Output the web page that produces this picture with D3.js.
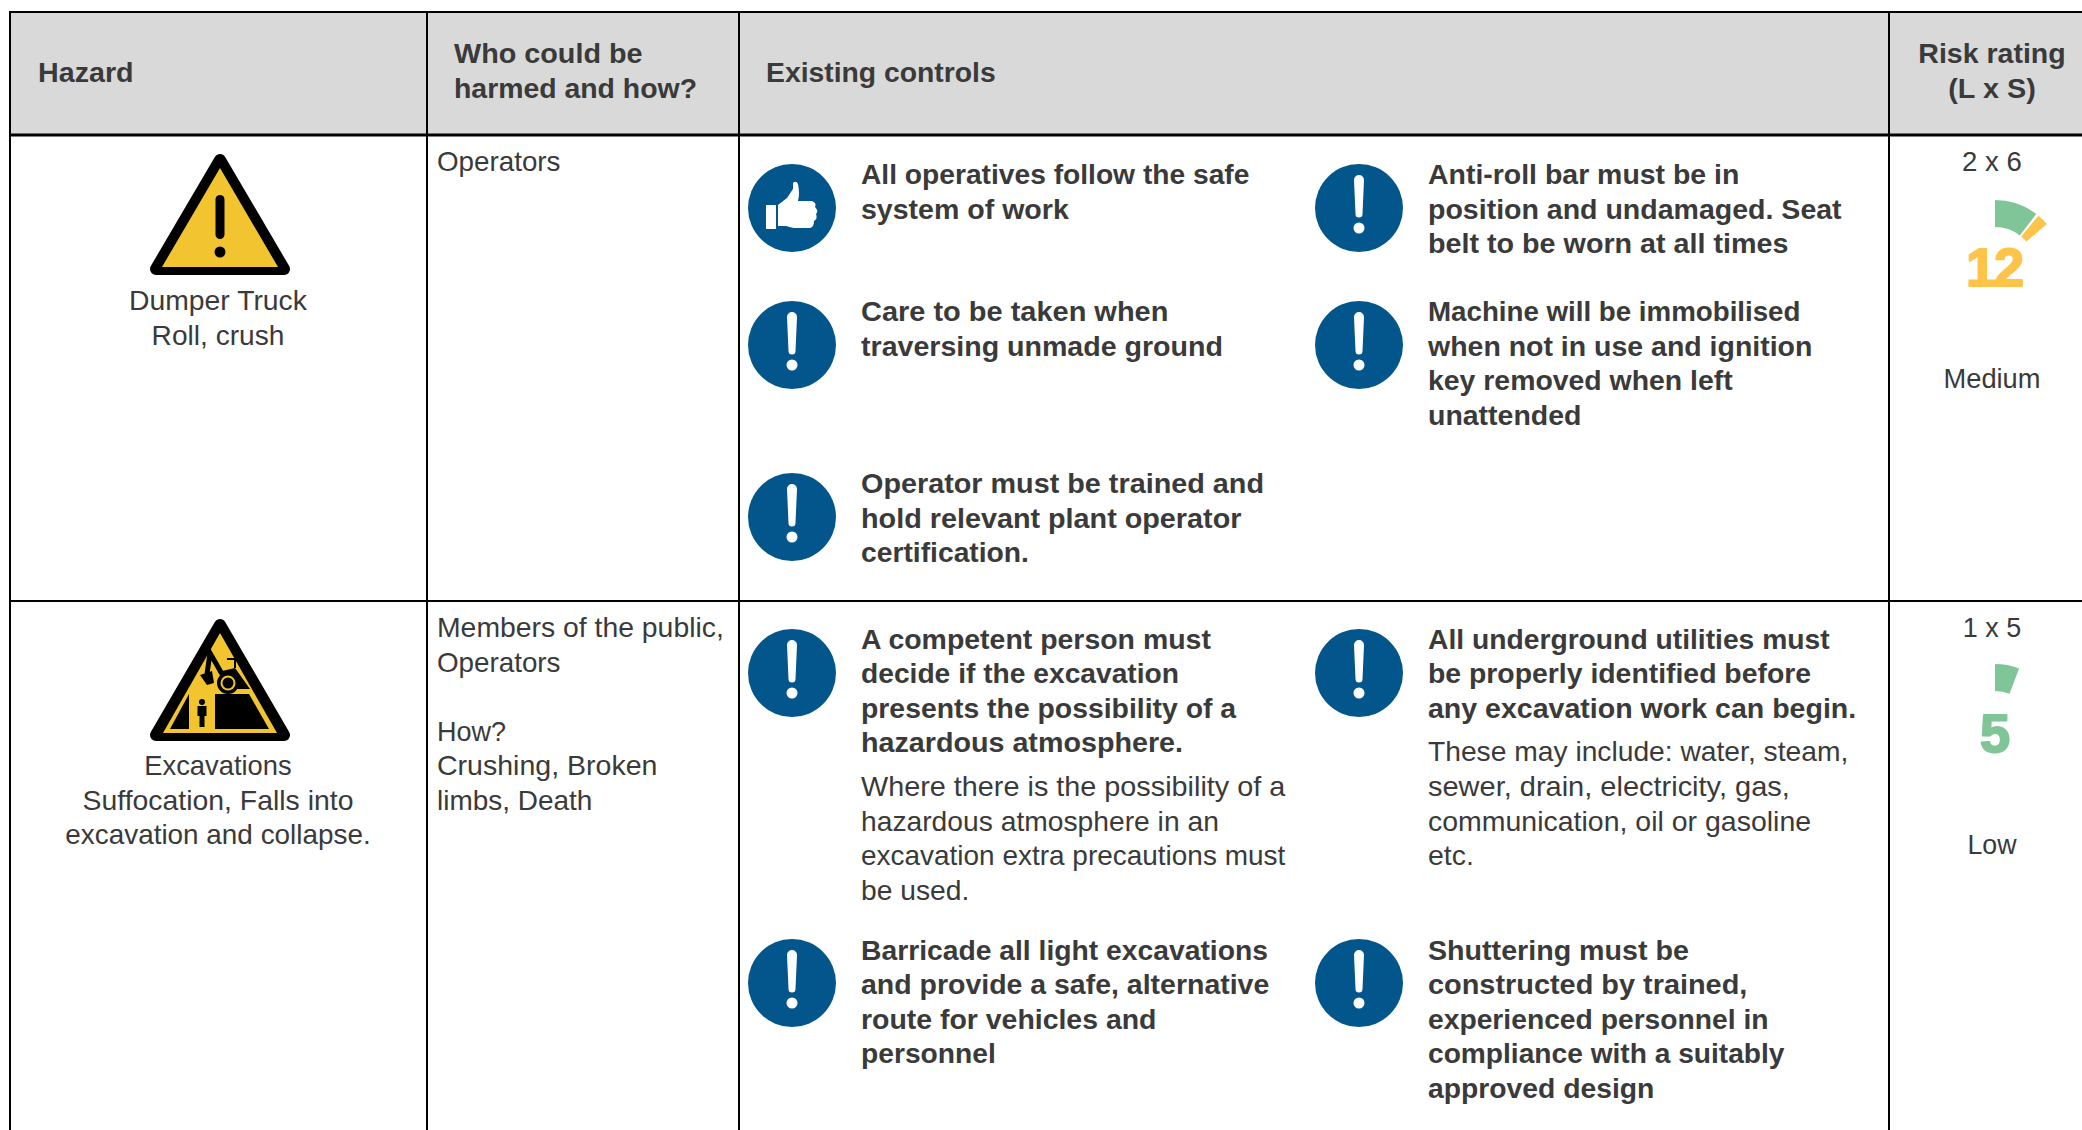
<!DOCTYPE html>
<html><head><meta charset="utf-8">
<script src="https://cdn.jsdelivr.net/npm/d3@7/dist/d3.min.js"></script>
<style>html,body{margin:0;padding:0;background:#fff;overflow:hidden}svg{display:block}
text{font-family:"Liberation Sans",Arial,sans-serif;fill:#3a3a3a}</style></head><body><svg id="c" width="2082" height="1130"></svg>
<script>
// ---- data ----
const headers = [["Hazard"],["Who could be","harmed and how?"],["Existing controls"],["Risk rating","(L x S)"]];
const hazards = [["Dumper Truck","Roll, crush"],["Excavations","Suffocation, Falls into","excavation and collapse."]];
const harmed = [["Operators"],["Members of the public,","Operators","","How?","Crushing, Broken","limbs, Death"]];
const likelihood = [2,1];
const severity = [6,5];
const ratings = ["Medium","Low"];
const controlRow = [0,0,0,0,0,1,1,1,1];
const controlCol = [0,1,0,1,0,0,1,0,1];
const controlSlot = [0,0,1,1,2,0,0,1,1];
const controlIcon = ["thumb","info","info","info","info","info","info","info","info"];
const controlBold = [
 ["All operatives follow the safe","system of work"],
 ["Anti-roll bar must be in","position and undamaged. Seat","belt to be worn at all times"],
 ["Care to be taken when","traversing unmade ground"],
 ["Machine will be immobilised","when not in use and ignition","key removed when left","unattended"],
 ["Operator must be trained and","hold relevant plant operator","certification."],
 ["A competent person must","decide if the excavation","presents the possibility of a","hazardous atmosphere."],
 ["All underground utilities must","be properly identified before","any excavation work can begin."],
 ["Barricade all light excavations","and provide a safe, alternative","route for vehicles and","personnel"],
 ["Shuttering must be","constructed by trained,","experienced personnel in","compliance with a suitably","approved design"]];
const controlPlain = [[],[],[],[],[],
 ["Where there is the possibility of a","hazardous atmosphere in an","excavation extra precautions must","be used."],
 ["These may include: water, steam,","sewer, drain, electricity, gas,","communication, oil or gasoline","etc."],[],[]];
const bandLimit = 9;

// ---- layout ----
const W=2082,H=1130,LH=34.6;
// rendered width of each text line (as measured in the 1568-wide view)
const fit={"Hazard":72,"Who could be":142,"harmed and how?":183,"Existing controls":173,"Risk rating":111,"(L x S)":66,
"Dumper Truck":134,"Roll, crush":100,"Excavations":111,"Suffocation, Falls into":204,"excavation and collapse.":230,
"Operators":93,"Members of the public,":216,"How?":52,"Crushing, Broken":166,"limbs, Death":117,
"All operatives follow the safe":292.5,"system of work":156.5,"Care to be taken when":231.5,"traversing unmade ground":272.5,
"Operator must be trained and":303.5,"hold relevant plant operator":286.5,"certification.":126.5,
"A competent person must":263.5,"decide if the excavation":239.5,"presents the possibility of a":282.5,"hazardous atmosphere.":242.5,
"Barricade all light excavations":306.5,"and provide a safe, alternative":307.5,"route for vehicles and":222.5,"personnel":101.5,
"Anti-roll bar must be in":234.5,"position and undamaged. Seat":311.5,"belt to be worn at all times":271.5,
"Machine will be immobilised":280.5,"when not in use and ignition":289.5,"key removed when left":229.5,"unattended":115.5,
"All underground utilities must":302.5,"be properly identified before":288.5,"any excavation work can begin.":322.5,
"Shuttering must be":196.5,"constructed by trained,":240.5,"experienced personnel in":256.5,"compliance with a suitably":268.5,"approved design":170.5,
"Where there is the possibility of a":319.5,"hazardous atmosphere in an":269.5,"excavation extra precautions must":319.5,"be used.":81.5,
"These may include: water, steam,":316.5,"sewer, drain, electricity, gas,":272.5,"communication, oil or gasoline":288.5,"etc.":34.5,
"Medium":73,"Low":37,"2 x 6":45,"1 x 5":44};
const svg=d3.select("#c");
const colX=[10,427,739,1889,W];
const headTop=12,headBottom=135;
const rowTop=[135,601];
const slotText=[[49,186,358],[47.5,358.5]];
const slotIcon=[[73,210,382],[72,382]];
const hazardY=[175,174];
const gaugeY=[133,131];
const textX=[861,1428], iconX=[792,1359];
const sweep=d3.scaleLinear().domain([0,25]).range([0,4.15*25*Math.PI/180]);
const arc=d3.arc().innerRadius(41).outerRadius(68);
const lines=(g,arr,x,y,opt={})=>arr.forEach((t,i)=>{ if(!t) return;
  const el=g.append("text").attr("x",x).attr("y",y+i*LH).attr("font-size",28)
   .attr("font-weight",opt.bold?"bold":"normal").attr("text-anchor",opt.anchor||"start").text(t);
  if(fit[t]) el.attr("textLength",fit[t]*W/1568).attr("lengthAdjust","spacingAndGlyphs");
});

// header background and grid
svg.append("rect").attr("x",colX[0]).attr("y",headTop).attr("width",W-colX[0]).attr("height",headBottom-headTop).attr("fill","#d9d9d9");
const grid=svg.append("g").attr("stroke","#000");
grid.append("line").attr("x1",colX[0]-1).attr("x2",W).attr("y1",headTop).attr("y2",headTop).attr("stroke-width",2);
grid.append("line").attr("x1",colX[0]).attr("x2",W).attr("y1",headBottom).attr("y2",headBottom).attr("stroke-width",3);
grid.append("line").attr("x1",colX[0]).attr("x2",W).attr("y1",rowTop[1]).attr("y2",rowTop[1]).attr("stroke-width",2);
colX.slice(0,4).forEach(x=>grid.append("line").attr("x1",x).attr("x2",x).attr("y1",headTop).attr("y2",H).attr("stroke-width",2));

// headers
lines(svg,headers[0],38,82,{bold:true});
lines(svg,headers[1],454,63,{bold:true});
lines(svg,headers[2],766,82,{bold:true});
lines(svg,headers[3],1992,63,{bold:true,anchor:"middle"});

// icons
function warning(g,cx,top,w,h){
  g.append("path").attr("d",d3.line()([[cx,top+7],[cx+w/2-6,top+h-6],[cx-w/2+6,top+h-6]])+"Z")
   .attr("fill","#000").attr("stroke","#000").attr("stroke-width",12).attr("stroke-linejoin","round");
}
function dumperSign(g){
  warning(g,220,153,140,122);
  g.append("path").attr("d",d3.line()([[220,168],[278,267],[162,267]])+"Z").attr("fill","#f2c530");
  g.append("rect").attr("x",215.5).attr("y",195).attr("width",9).attr("height",44).attr("rx",4.5);
  g.append("circle").attr("cx",220).attr("cy",252).attr("r",5.5);
}
function excavationSign(g){
  warning(g,220,618,140,123);
  g.append("path").attr("d",d3.line()([[220,633],[277,733],[163,733]])+"Z").attr("fill","#f2c530");
  // ground either side of the trench
  g.append("path").attr("d","M170 729L189 694V729Z");
  g.append("path").attr("d","M215 694H249L269 729H215Z");
  // person in trench
  g.append("circle").attr("cx",202).attr("cy",702).attr("r",3);
  g.append("path").attr("d","M197.500 706H206.500V716H204.500V727H199.500V716H197.500Z");
  // excavator
  g.append("path").attr("d","M222 674L210 653L207 674").attr("fill","none").attr("stroke","#000").attr("stroke-width",5);
  g.append("path").attr("d","M200 675L212 671L214 683L207 685Z");
  g.append("path").attr("d","M218 672L235 668L250 689H237Z");
  g.append("path").attr("d","M227 659H235V668").attr("fill","none").attr("stroke","#000").attr("stroke-width",2);
  g.append("circle").attr("cx",228).attr("cy",683).attr("r",11);
  g.append("circle").attr("cx",228).attr("cy",683).attr("r",7.500).attr("fill","#f2c530");
  g.append("circle").attr("cx",228).attr("cy",683).attr("r",5.500);
}
function infoIcon(g,name){
  g.append("circle").attr("r",44).attr("fill","#03568c");
  if(name==="info"){
    g.append("path").attr("d","M-5 -28 a5 5 0 0 1 10 0 L3.500 6 a3.500 3.500 0 0 1 -7 0Z").attr("fill","#fff");
    g.append("circle").attr("cy",20).attr("r",5.5).attr("fill","#fff");
  } else {
    g.append("rect").attr("x",-26).attr("y",-3).attr("width",10).attr("height",24).attr("fill","#fff");
    g.append("path").attr("fill","#fff").attr("d","M-14 -3 L-5 -10 L1 -19 L1 -25 Q4 -28 6 -24 Q8 -14 6 -7 L20 -7 Q25 -5 23 -1 Q27 3 24 6 Q26 11 22 13 Q22 19 18 20 L2 20 Q-3 19 -6 18 L-14 18Z");
  }
}
dumperSign(svg.append("g"));
excavationSign(svg.append("g"));

// hazard and who columns
hazards.forEach((h,i)=>lines(svg,h,218,rowTop[i]+hazardY[i],{anchor:"middle"}));
harmed.forEach((h,i)=>lines(svg,h,437,rowTop[i]+36,{}));

// controls
controlBold.forEach((b,i)=>{
  const r=controlRow[i],c=controlCol[i],s=controlSlot[i];
  const base=rowTop[r]+slotText[r][s];
  lines(svg,b,textX[c],base,{bold:true});
  infoIcon(svg.append("g").attr("transform",`translate(${iconX[c]},${rowTop[r]+slotIcon[r][s]})`),controlIcon[i]);
  if(controlPlain[i].length) lines(svg,controlPlain[i],textX[c],base+b.length*LH+9,{});
});

// risk rating gauges
likelihood.forEach((l,i)=>{
  const score=l*severity[i],top=rowTop[i],g=svg.append("g");
  const color=score>bandLimit?"#fdc449":"#80c597";
  lines(g,[`${l} x ${severity[i]}`],1992,top+36,{anchor:"middle"});
  const cg=g.append("g").attr("transform",`translate(1995,${top+gaugeY[i]})`);
  cg.append("path").attr("fill","#80c597").attr("d",arc({startAngle:0,endAngle:sweep(Math.min(score,bandLimit))}));
  if(score>bandLimit) cg.append("path").attr("fill","#fdc449").attr("d",arc({startAngle:sweep(bandLimit+0.55),endAngle:sweep(score)}));
  g.append("text").attr("x",1994).attr("y",top+151).attr("text-anchor","middle").attr("font-size",54).attr("font-weight","bold")
   .style("fill",color).style("stroke",color).attr("stroke-width",2).attr("stroke-linejoin","round").attr("letter-spacing",-2).text(score);
  lines(g,[ratings[i]],1992,top+253,{anchor:"middle"});
});
</script></body></html>
